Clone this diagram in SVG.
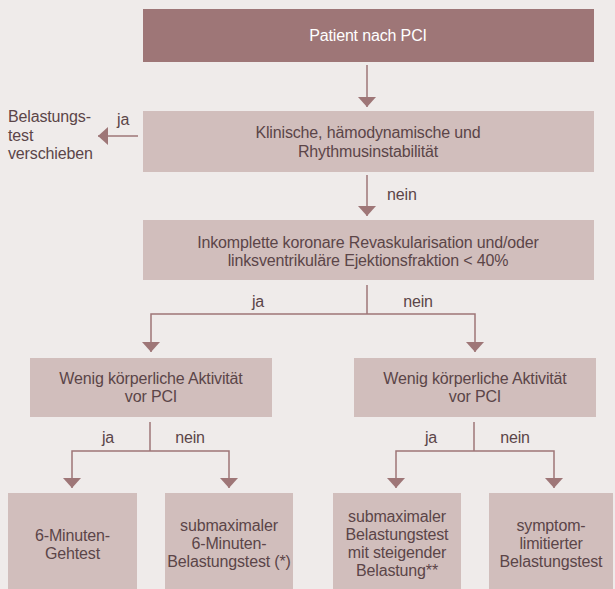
<svg xmlns="http://www.w3.org/2000/svg" width="615" height="589" viewBox="0 0 615 589">
<style>
.bg{fill:#efebea}
.dark{fill:#9e7677}
.light{fill:#d1bebc}
text{font-family:"Liberation Sans",Arial,sans-serif;font-size:16px;letter-spacing:-0.15px;fill:#5b4548}
.c{text-anchor:middle}
.w{fill:#ffffff}
.conn path{stroke:#9e7677;stroke-width:1.5;fill:none}
</style>
<defs>
<marker id="arr" viewBox="0 0 10 18" refX="10" refY="9" markerWidth="10" markerHeight="18" markerUnits="userSpaceOnUse" orient="auto">
<path d="M0,0 L10,9 L0,18 z" fill="#9e7677"/>
</marker>
</defs>
<rect class="bg" x="0" y="0" width="615" height="589"/>

<g id="n-patient">
<rect class="dark" x="143" y="9" width="451" height="53"/>
<text class="c w" x="368" y="41">Patient nach PCI</text>
</g>
<g id="n-instabil">
<rect class="light" x="143" y="111" width="451" height="61"/>
<text class="c" x="368" y="138">Klinische, hämodynamische und</text>
<text class="c" x="368" y="157">Rhythmusinstabilität</text>
</g>
<g id="n-verschieben">
<text x="8" y="122">Belastungs-</text>
<text x="8" y="141">test</text>
<text x="8" y="159">verschieben</text>
</g>
<g id="n-revask">
<rect class="light" x="143" y="220" width="451" height="60"/>
<text class="c" x="368" y="248">Inkomplette koronare Revaskularisation und/oder</text>
<text class="c" x="368" y="266">linksventrikuläre Ejektionsfraktion &lt; 40%</text>
</g>
<g id="n-wenig-l">
<rect class="light" x="30" y="358" width="242" height="59"/>
<text class="c" x="151" y="384">Wenig körperliche Aktivität</text>
<text class="c" x="151" y="402">vor PCI</text>
</g>
<g id="n-wenig-r">
<rect class="light" x="354" y="358" width="242" height="59"/>
<text class="c" x="475" y="384">Wenig körperliche Aktivität</text>
<text class="c" x="475" y="402">vor PCI</text>
</g>
<g id="n-geh">
<rect class="light" x="8" y="493" width="129" height="96"/>
<text class="c" x="72.5" y="541">6-Minuten-</text>
<text class="c" x="72.5" y="559">Gehtest</text>
</g>
<g id="n-submax6">
<rect class="light" x="165" y="493" width="128" height="96"/>
<text class="c" x="229" y="531">submaximaler</text>
<text class="c" x="229" y="549">6-Minuten-</text>
<text class="c" x="229" y="567">Belastungstest (*)</text>
</g>
<g id="n-submaxsteig">
<rect class="light" x="333" y="493" width="128" height="96"/>
<text class="c" x="397" y="522">submaximaler</text>
<text class="c" x="397" y="540">Belastungstest</text>
<text class="c" x="397" y="558">mit steigender</text>
<text class="c" x="397" y="576">Belastung**</text>
</g>
<g id="n-symptom">
<rect class="light" x="489" y="493" width="124" height="96"/>
<text class="c" x="551" y="531">symptom-</text>
<text class="c" x="551" y="549">limitierter</text>
<text class="c" x="551" y="567">Belastungstest</text>
</g>

<g id="connectors" class="conn">
<path d="M367,65 V107" marker-end="url(#arr)"/>
<path d="M367,175 V216" marker-end="url(#arr)"/>
<path d="M138,136 H98" marker-end="url(#arr)"/>
<path d="M367,285 V314"/>
<path d="M367,314 H151 V352" marker-end="url(#arr)"/>
<path d="M367,314 H475 V352" marker-end="url(#arr)"/>
<path d="M150,422 V451"/>
<path d="M150,451 H72 V488" marker-end="url(#arr)"/>
<path d="M150,451 H229 V488" marker-end="url(#arr)"/>
<path d="M474,422 V451"/>
<path d="M474,451 H396 V488" marker-end="url(#arr)"/>
<path d="M474,451 H554 V488" marker-end="url(#arr)"/>
<text x="387" y="200">nein</text>
<text x="117" y="125">ja</text>
<text class="c" x="258" y="307">ja</text>
<text class="c" x="418" y="307">nein</text>
<text class="c" x="108" y="443">ja</text>
<text class="c" x="190" y="443">nein</text>
<text class="c" x="431" y="443">ja</text>
<text class="c" x="515" y="443">nein</text>
</g>
</svg>
